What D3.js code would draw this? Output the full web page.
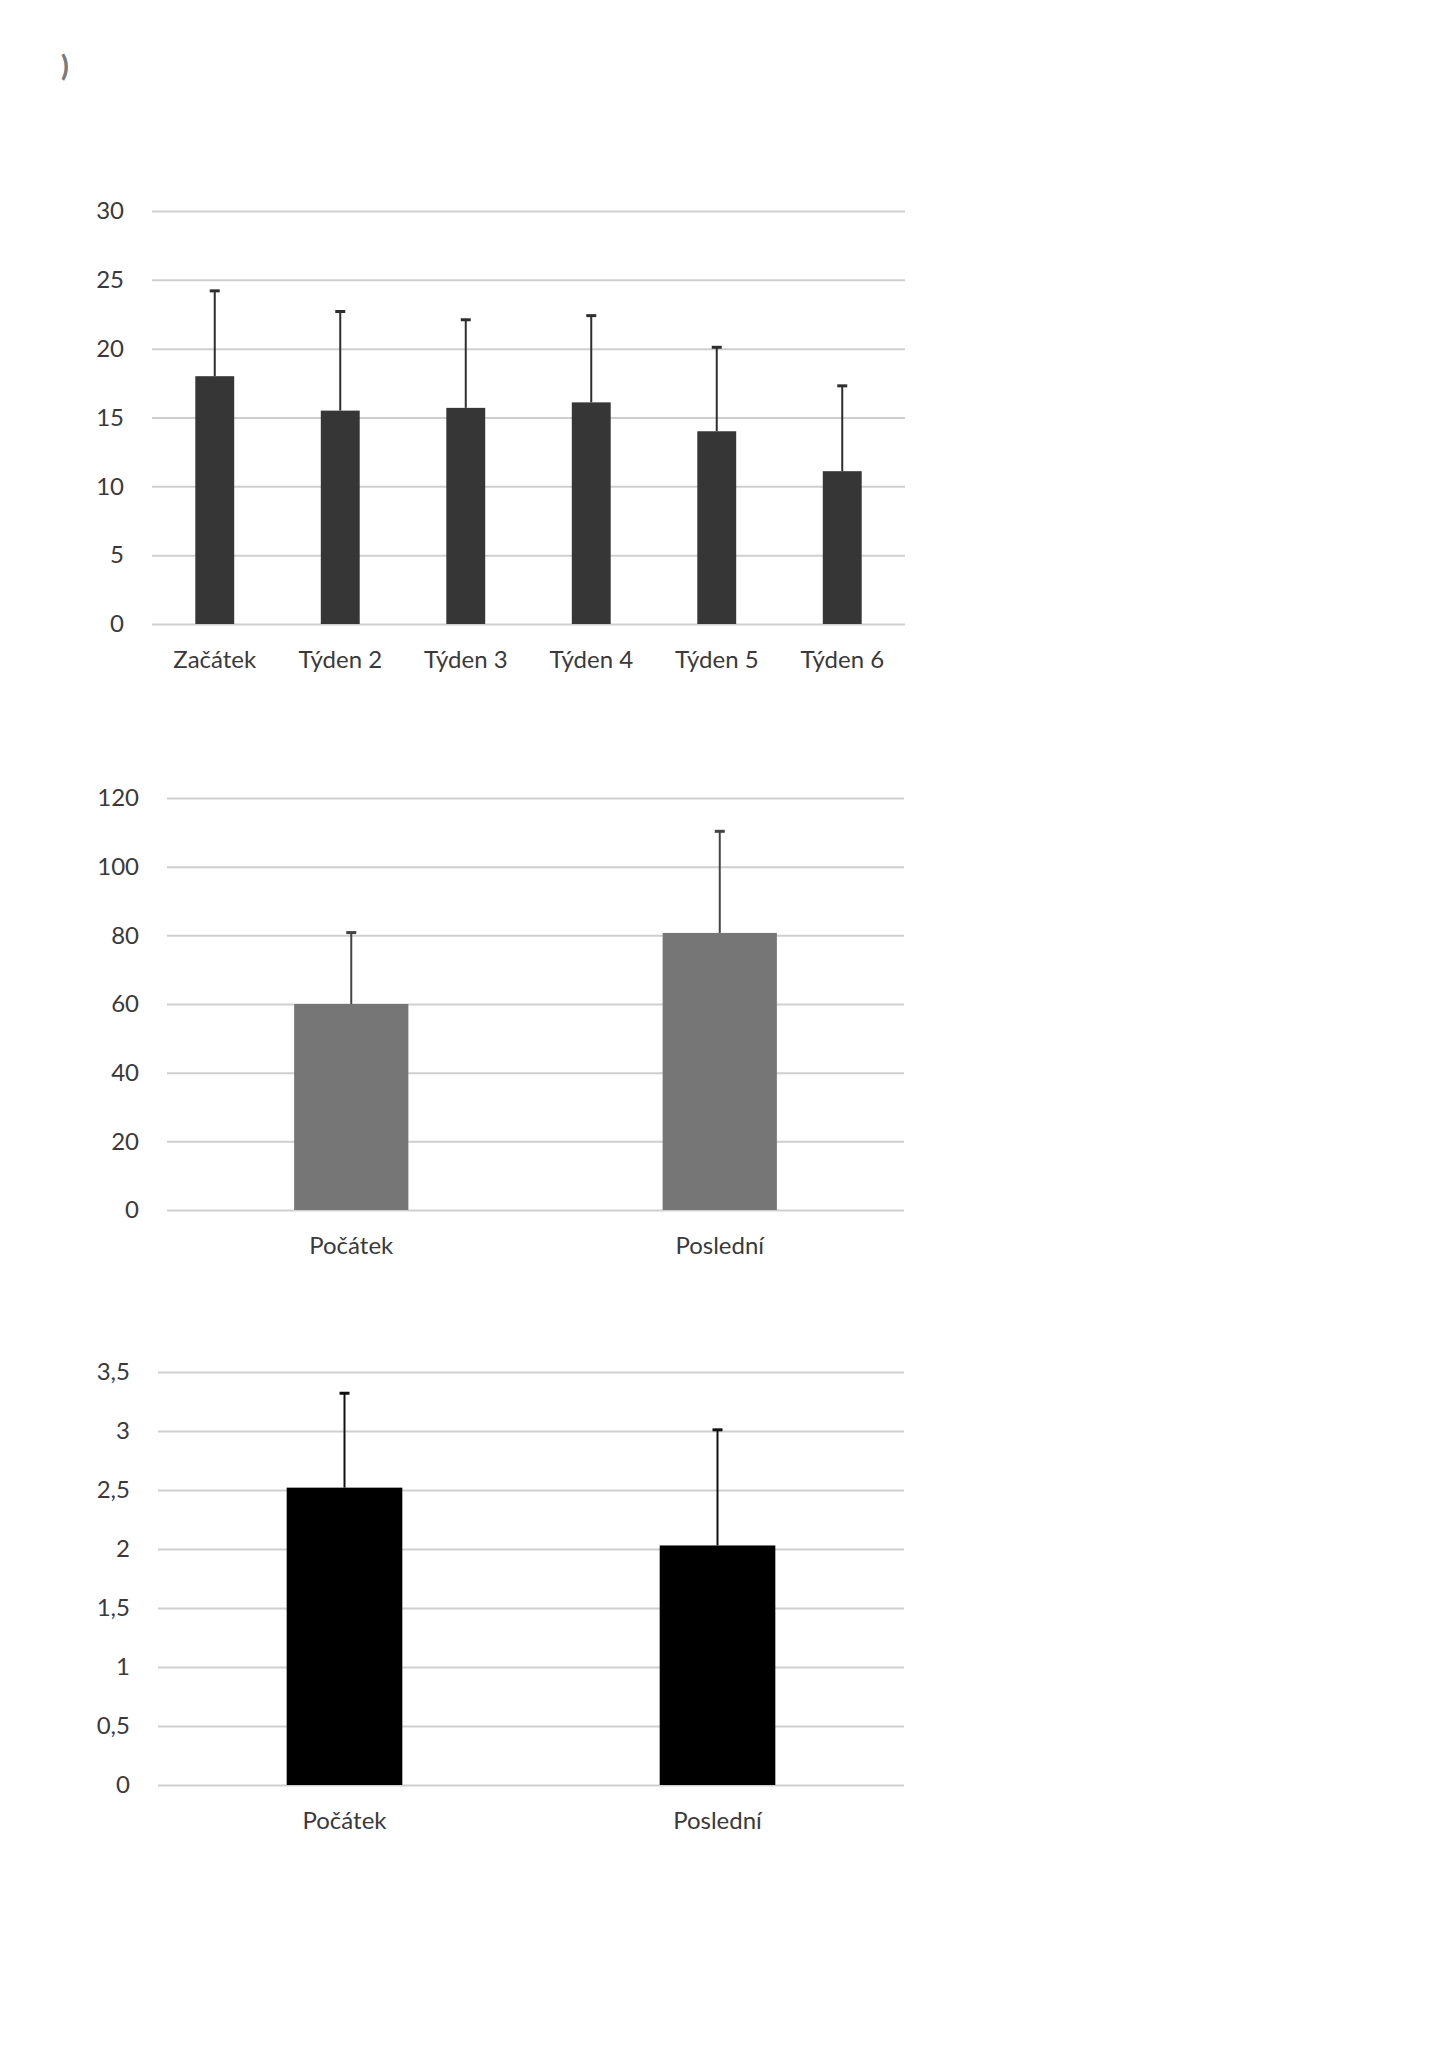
<!DOCTYPE html>
<html>
<head>
<meta charset="utf-8">
<script src="https://cdn.jsdelivr.net/npm/d3@7"></script>
<style>
  body { margin: 0; background: #fff; }
  svg { display: block; }
  text { font-family: Lato, "Open Sans", sans-serif; }
</style>
</head>
<body>
<svg width="1449" height="2050"></svg>
<script>
// Chart 1 - weekly values
let weekCategories = ["Začátek", "Týden 2", "Týden 3", "Týden 4", "Týden 5", "Týden 6"];
let weekMeans = [18.0, 15.5, 15.7, 16.1, 14.0, 11.1];
let weekErrors = [6.2, 7.2, 6.4, 6.3, 6.1, 6.2];
let weekTicks = [0, 5, 10, 15, 20, 25, 30];

// Chart 2 - first vs last
let pairCategories = ["Počátek", "Poslední"];
let secondMeans = [60.0, 80.7];
let secondErrors = [20.8, 29.6];
let secondTicks = [0, 20, 40, 60, 80, 100, 120];

// Chart 3 - first vs last
let thirdMeans = [2.52, 2.03];
let thirdErrors = [0.80, 0.98];
let thirdTicks = [0, 0.5, 1, 1.5, 2, 2.5, 3, 3.5];

let svg = d3.select("svg");
let czech = d3.formatLocale({ decimal: ",", thousands: " ", grouping: [3], currency: ["", " Kč"] });

// small grey mark in the top-left corner of the page
svg.append("text")
    .attr("x", 61)
    .attr("y", 76)
    .attr("font-size", 28)
    .attr("font-weight", 900)
    .attr("fill", "#7a7a7a")
    .text(")");

function drawBarChart(opts) {
    let g = svg.append("g");

    let x = d3.scaleBand()
        .domain(opts.categories)
        .range([opts.left, opts.right])
        .paddingInner(0.69)
        .paddingOuter(0.345);

    let y = d3.scaleLinear()
        .domain([0, d3.max(opts.ticks)])
        .range([opts.bottom, opts.top]);

    // y axis as gridlines + labels
    let yAxis = g.append("g")
        .attr("transform", `translate(${opts.left},0)`)
        .call(d3.axisLeft(y)
            .tickValues(opts.ticks)
            .tickSize(-(opts.right - opts.left))
            .tickPadding(28)
            .tickFormat(czech.format(",~g")));
    yAxis.select(".domain").remove();
    yAxis.selectAll(".tick line").attr("stroke", "#cfcfcf").attr("stroke-width", 2);
    yAxis.selectAll(".tick text")
        .attr("font-size", 24)
        .attr("font-family", "Lato, sans-serif")
        .attr("fill", "#3a3a3a");

    // category labels
    let xAxis = g.append("g")
        .attr("transform", `translate(0,${opts.bottom})`)
        .call(d3.axisBottom(x).tickSize(0).tickPadding(27));
    xAxis.select(".domain").remove();
    xAxis.selectAll(".tick text")
        .attr("font-size", 24)
        .attr("font-family", "Lato, sans-serif")
        .attr("fill", "#3a3a3a");

    let data = opts.categories.map((c, i) => ({ cat: c, mean: opts.means[i], err: opts.errors[i] }));

    // bars
    g.selectAll(".bar")
        .data(data)
        .join("rect")
        .attr("class", "bar")
        .attr("x", d => x(d.cat))
        .attr("width", x.bandwidth())
        .attr("y", d => y(d.mean))
        .attr("height", d => y(0) - y(d.mean))
        .attr("fill", opts.color);

    // error bars (upper only)
    let cx = d => x(d.cat) + x.bandwidth() / 2;
    g.selectAll(".err")
        .data(data)
        .join("line")
        .attr("class", "err")
        .attr("x1", cx)
        .attr("x2", cx)
        .attr("y1", d => y(d.mean))
        .attr("y2", d => y(d.mean + d.err))
        .attr("stroke", opts.errColor)
        .attr("stroke-width", 2);
    g.selectAll(".cap")
        .data(data)
        .join("line")
        .attr("class", "cap")
        .attr("x1", d => cx(d) - 5)
        .attr("x2", d => cx(d) + 5)
        .attr("y1", d => y(d.mean + d.err))
        .attr("y2", d => y(d.mean + d.err))
        .attr("stroke", opts.errColor)
        .attr("stroke-width", 3);
}

drawBarChart({
    categories: weekCategories, means: weekMeans, errors: weekErrors, ticks: weekTicks,
    left: 152, right: 905, top: 211, bottom: 624,
    color: "#363636", errColor: "#2e2e2e"
});

drawBarChart({
    categories: pairCategories, means: secondMeans, errors: secondErrors, ticks: secondTicks,
    left: 167, right: 904, top: 798, bottom: 1210,
    color: "#767676", errColor: "#444444"
});

drawBarChart({
    categories: pairCategories, means: thirdMeans, errors: thirdErrors, ticks: thirdTicks,
    left: 158, right: 904, top: 1372, bottom: 1785,
    color: "#000000", errColor: "#111111"
});
</script>
</body>
</html>
